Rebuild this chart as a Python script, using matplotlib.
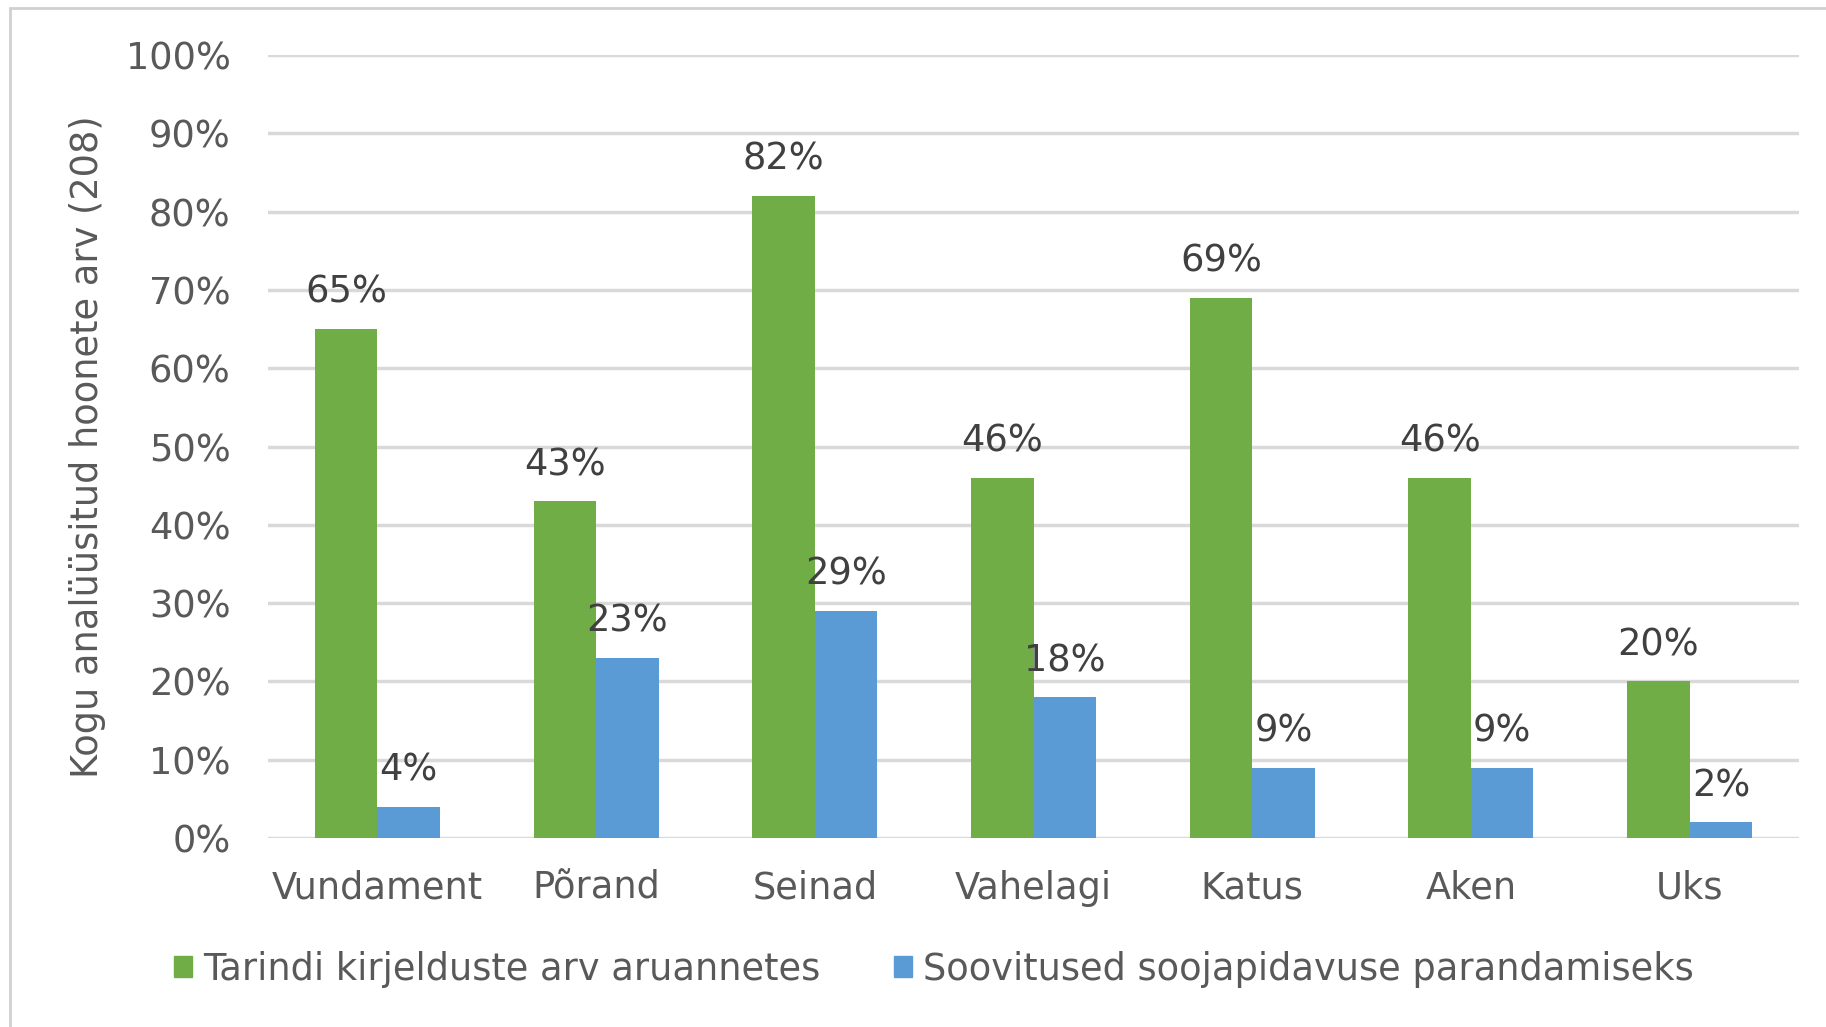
import numpy as np
import matplotlib
matplotlib.use('Agg')
import matplotlib.pyplot as plt
from matplotlib.patches import Patch, Rectangle
from matplotlib.ticker import PercentFormatter

categories = ["Vundament", "Põrand", "Seinad", "Vahelagi", "Katus", "Aken", "Uks"]
described = [65, 43, 82, 46, 69, 46, 20]
recommended = [4, 23, 29, 18, 9, 9, 2]
series_names = ["Tarindi kirjelduste arv aruannetes",
                "Soovitused soojapidavuse parandamiseks"]
y_label = "Kogu analüüsitud hoonete arv (208)"

green = "#70AD47"
blue = "#5B9BD5"
text_col = "#595959"
grid_col = "#D9D9D9"
fs = 26.5

W, H = 1826, 1027
fig = plt.figure(figsize=(W / 100, H / 100), dpi=100)
plt.rcParams['font.family'] = ['DejaVu Sans']

# outer chart frame
fig.patches.append(Rectangle((10 / W, -0.05), 1.1, (H - 8) / H + 0.05,
                             transform=fig.transFigure, fill=False,
                             edgecolor="#D0D0D0", linewidth=2))

left, right, top, bottom = 268, 1799, 55, 838
ax = fig.add_axes([left / W, (H - bottom) / H, (right - left) / W, (bottom - top) / H])

x = np.arange(len(categories))
width = 1 / 3.5
b1 = ax.bar(x - width / 2, described, width, color=green)
b2 = ax.bar(x + width / 2, recommended, width, color=blue)

for bars, vals in ((b1, described), (b2, recommended)):
    for rect, v in zip(bars, vals):
        ax.annotate(f"{v}%", (rect.get_x() + rect.get_width() / 2, v),
                    xytext=(0, 13), textcoords="offset points",
                    ha="center", va="bottom", fontsize=fs, color="#404040")

ax.set_ylim(0, 100)
ax.set_xlim(-0.5, len(categories) - 0.5)
ax.set_yticks(np.arange(0, 101, 10))
ax.yaxis.set_major_formatter(PercentFormatter(decimals=0))
ax.set_xticks(x)
ax.set_xticklabels(categories)
ax.tick_params(axis="both", length=0, labelsize=fs, labelcolor=text_col)
ax.tick_params(axis="x", pad=23)
ax.tick_params(axis="y", pad=27)

ax.grid(axis="y", color=grid_col, linewidth=2.5)
ax.set_axisbelow(True)
for s in ax.spines.values():
    s.set_visible(False)

ax.set_ylabel(y_label, fontsize=fs, color=text_col, va="center")
ax.yaxis.set_label_coords(-0.118, 0.5)

handles = [Patch(color=green), Patch(color=blue)]
fig.legend(handles, series_names, loc="center", bbox_to_anchor=(0.5115, (H - 969) / H),
           ncol=2, frameon=False, fontsize=fs, labelcolor=text_col,
           handlelength=0.5, handleheight=0.5, handletextpad=0.3, columnspacing=2.0)

fig.savefig("out.png", dpi=100)
